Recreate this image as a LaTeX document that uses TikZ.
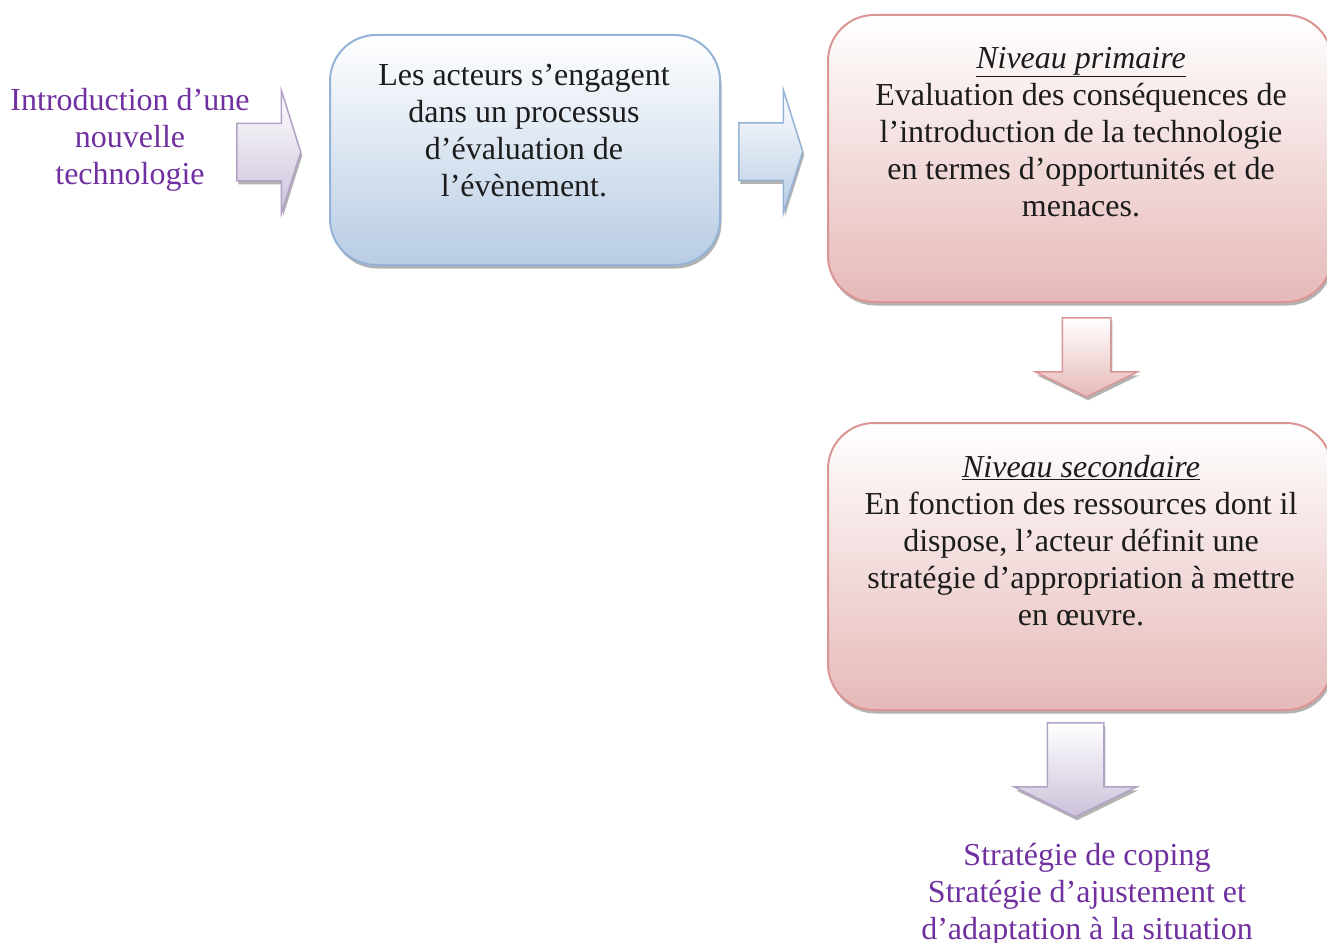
\documentclass[tikz,border=0pt]{standalone}
\usepackage{fontspec}
\setmainfont{Liberation Serif}
\usetikzlibrary{shapes.arrows,shadows}

\definecolor{encre}{HTML}{1C1C1C}
\definecolor{violet}{HTML}{7030A0}
\definecolor{bleubord}{HTML}{95B3D7}
\definecolor{bleufond}{HTML}{B8CCE4}
\definecolor{rosebord}{HTML}{D99694}
\definecolor{rosefond}{HTML}{E6B9B8}
\definecolor{mauvebord}{HTML}{B3A2C7}
\definecolor{mauvefond}{HTML}{CCC1DA}

\tikzset{
  texte/.style={font=\fontsize{32}{37}\selectfont, align=center, inner sep=0pt, text=encre},
  ombre/.style={drop shadow={shadow xshift=1.5pt, shadow yshift=-3.5pt, fill=black!60, opacity=.5}},
  boite/.style={rounded corners=46pt, line width=2pt, inner sep=0pt, ombre},
  boitebleue/.style={boite, draw=bleubord, top color=white, bottom color=bleufond},
  boiterose/.style={boite, draw=rosebord, top color=white, bottom color=rosefond},
  fleche/.style={single arrow, line width=1.5pt, ombre, anchor=tail},
  flechedroite/.style={fleche, inner xsep=0pt, inner ysep=28pt, minimum height=64pt,
    minimum width=122pt, single arrow head extend=33pt, single arrow tip angle=145},
  flechebas/.style={fleche, shape border rotate=270, single arrow tip angle=128}
}

\begin{document}
\begin{tikzpicture}[x=1pt,y=-1pt]
\useasboundingbox (0,0) rectangle (1327,942);

% entree
\node[texte, text=violet] (intro) at (130,140) {Introduction d’une\\nouvelle\\technologie};
\node[flechedroite, draw=mauvebord, top color=white, bottom color=mauvefond] (f1) at (236,152) {};

% evaluation
\node[boitebleue, minimum width=390, minimum height=230] (eval) at (525,150) {};
\node[texte] (evaltxt) at (524,131) {Les acteurs s’engagent\\dans un processus\\d’évaluation de\\l’évènement.};
\node[flechedroite, draw=bleubord, top color=white, bottom color=bleufond] (f2) at (738,151.5) {};

% niveau primaire
\node[boiterose, minimum width=504, minimum height=287] (prim) at (1080,158.5) {};
\node[texte] (primtxt) at (1081,132) {\underline{\textit{Niveau primaire}}\\Evaluation des conséquences de\\l’introduction de la technologie\\en termes d’opportunités et de\\menaces.};
\node[flechebas, draw=rosebord, top color=white, bottom color=rosefond,
  inner sep=23.5pt, minimum height=79pt, minimum width=101pt, single arrow head extend=27pt] (f3) at (1086.5,317) {};

% niveau secondaire
\node[boiterose, minimum width=504, minimum height=287] (sec) at (1080,566.5) {};
\node[texte] (sectxt) at (1081,540.5) {\underline{\textit{Niveau secondaire}}\\En fonction des ressources dont il\\dispose, l’acteur définit une\\stratégie d’appropriation à mettre\\en œuvre.};
\node[flechebas, draw=mauvebord, top color=white, bottom color=mauvefond,
  inner sep=27.5pt, minimum height=94pt, minimum width=121pt, single arrow head extend=33pt] (f4) at (1075.5,722) {};

% sortie
\node[texte, text=violet] (coping) at (1087,895) {Stratégie de coping\\Stratégie d’ajustement et\\d’adaptation à la situation};
\end{tikzpicture}
\end{document}
